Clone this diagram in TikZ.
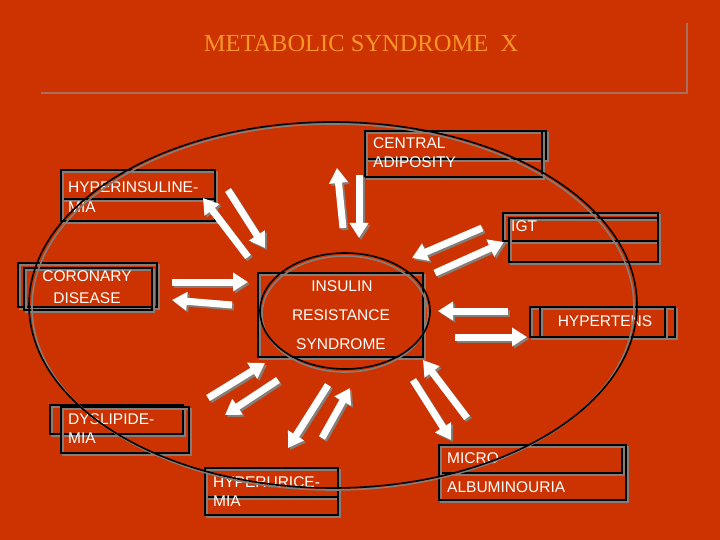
\documentclass[tikz,border=0pt]{standalone}
\usepackage{fontspec}
\setmainfont{Liberation Serif}
\newfontfamily\arialf{Liberation Sans}
\usetikzlibrary{arrows.meta}
\definecolor{bgred}{RGB}{204,51,0}
\definecolor{ttl}{RGB}{250,150,40}
\definecolor{shd}{RGB}{135,125,120}
\definecolor{rulec}{RGB}{168,112,92}
\tikzset{
  lbl/.style={text=white, font=\arialf\fontsize{15.5}{18}\selectfont, inner sep=0pt},
  arrw/.style={white, line width=7pt, -{Triangle[length=15pt,width=18pt]}},
  arrsh/.style={shd, line width=7pt, -{Triangle[length=15pt,width=18pt]}},
  frame/.style={black, line width=1.8pt},
  frameshd/.style={shd, line width=1.8pt},
}
\newcommand\shadowrect[4]{%
  \draw[frameshd] ({#1+2},{#2+2}) rectangle ({#3+2},{#4+2});
  \draw[frame] (#1,#2) rectangle (#3,#4);}
\newcommand\blkarrow[2]{%
  \draw[arrsh] ([shift={(2,2)}]#1) -- ([shift={(2,2)}]#2);
  \draw[arrw] (#1) -- (#2);}
\begin{document}
\begin{tikzpicture}[x=1pt,y=-1pt]
\fill[bgred] (0,0) rectangle (720,540);
\useasboundingbox (0,0) rectangle (720,540);

% title
\node[text=ttl, font=\fontsize{24.5}{28}\selectfont, anchor=base, inner sep=0pt] (title) at (361,52) {METABOLIC SYNDROME\ \ X};
\draw[rulec, line width=2.5pt] (41,93) -- (687,93) -- (687,23);

% boxes
\shadowrect{365}{131}{546}{159}\shadowrect{365}{131}{542}{177}
\shadowrect{61}{170}{215}{199}\shadowrect{61}{170}{215}{221}
\shadowrect{18}{263}{157}{307}\shadowrect{24}{268}{152}{310}
\shadowrect{503}{213}{658}{241}\shadowrect{509}{218}{658}{262}
\shadowrect{530}{307}{675}{337}\shadowrect{540}{307}{665}{337}
\shadowrect{50}{405}{183}{434}\shadowrect{61}{407}{189}{453}
\shadowrect{205}{468}{338}{497}\shadowrect{205}{468}{338}{515}
\shadowrect{439}{445}{622}{473}\shadowrect{439}{445}{626}{500}
\shadowrect{258}{273}{423}{357}

% texts
\node[lbl, anchor=base west] (ca1) at (373,149) {CENTRAL};
\node[lbl, anchor=base west] (ca2) at (373,168) {ADIPOSITY};
\node[lbl, anchor=base west] (hi1) at (68,193) {HYPERINSULINE-};
\node[lbl, anchor=base west] (hi2) at (68,212) {MIA};
\node[lbl, anchor=base] (cd1) at (87,281) {CORONARY};
\node[lbl, anchor=base] (cd2) at (87,303) {DISEASE};
\node[lbl, anchor=base west] (igt) at (511,232) {IGT};
\node[lbl, anchor=base] (ir1) at (342,291) {INSULIN};
\node[lbl, anchor=base] (ir2) at (341,320) {RESISTANCE};
\node[lbl, anchor=base] (ir3) at (341,349) {SYNDROME};
\node[lbl, anchor=base] (ht) at (605,326) {HYPERTENS};
\node[lbl, anchor=base west] (dl1) at (68,424) {DYSLIPIDE-};
\node[lbl, anchor=base west] (dl2) at (68,443) {MIA};
\node[lbl, anchor=base west] (hu1) at (213,487) {HYPERURICE-};
\node[lbl, anchor=base west] (hu2) at (213,506) {MIA};
\node[lbl, anchor=base west] (ma1) at (447,463) {MICRO};
\node[lbl, anchor=base west] (ma2) at (447,492) {ALBUMINOURIA};

% ellipses
\draw[shd, line width=1.6pt] (333,307) ellipse [x radius=301, y radius=183];
\draw[black, line width=1.6pt] (333,305) ellipse [x radius=304, y radius=183];
\draw[shd, line width=1.6pt] (345,314) ellipse [x radius=83, y radius=58];
\draw[black, line width=1.6pt] (345,311) ellipse [x radius=85, y radius=58];

% arrow end points
\coordinate (a1s) at (228,190);  \coordinate (a1e) at (265,248);
\coordinate (a2s) at (248,257);  \coordinate (a2e) at (203,198);
\coordinate (a3s) at (343,228);  \coordinate (a3e) at (337,168);
\coordinate (a4s) at (359,175);  \coordinate (a4e) at (359,238);
\coordinate (a5s) at (482,228);  \coordinate (a5e) at (412,258);
\coordinate (a6s) at (435,273);  \coordinate (a6e) at (504,242);
\coordinate (a7s) at (172,282);  \coordinate (a7e) at (248,282);
\coordinate (a8s) at (232,305);  \coordinate (a8e) at (172,300);
\coordinate (a9s) at (508,311);  \coordinate (a9e) at (438,311);
\coordinate (a10s) at (455,337); \coordinate (a10e) at (527,337);
\coordinate (a11s) at (208,398); \coordinate (a11e) at (265,363);
\coordinate (a12s) at (278,380); \coordinate (a12e) at (225,415);
\coordinate (a13s) at (328,385); \coordinate (a13e) at (288,448);
\coordinate (a14s) at (322,438); \coordinate (a14e) at (350,388);
\coordinate (a15s) at (413,380); \coordinate (a15e) at (451,440);
\coordinate (a16s) at (467,418); \coordinate (a16e) at (423,360);

\blkarrow{a1s}{a1e}\blkarrow{a2s}{a2e}
\blkarrow{a3s}{a3e}\blkarrow{a4s}{a4e}
\blkarrow{a5s}{a5e}\blkarrow{a6s}{a6e}
\blkarrow{a7s}{a7e}\blkarrow{a8s}{a8e}
\blkarrow{a9s}{a9e}\blkarrow{a10s}{a10e}
\blkarrow{a11s}{a11e}\blkarrow{a12s}{a12e}
\blkarrow{a13s}{a13e}\blkarrow{a14s}{a14e}
\blkarrow{a15s}{a15e}\blkarrow{a16s}{a16e}
\end{tikzpicture}
\end{document}
